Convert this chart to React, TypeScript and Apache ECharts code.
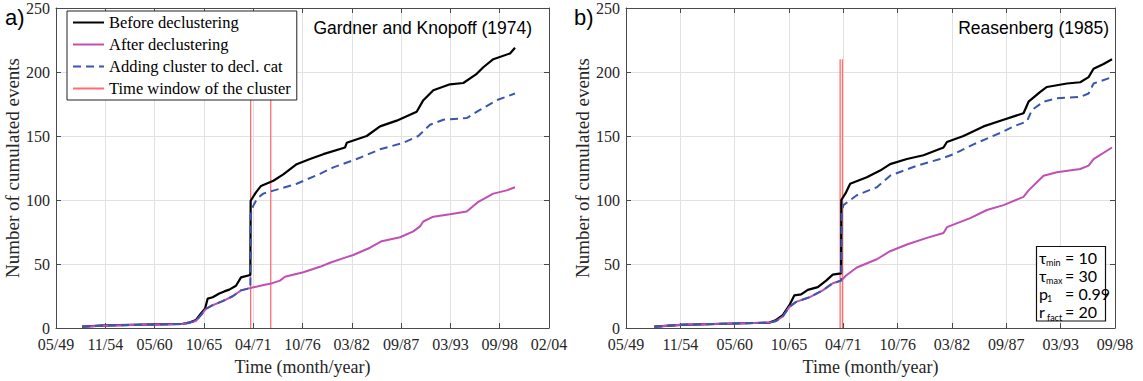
import React, { useEffect, useRef } from "react";
import * as echarts from "echarts";

type Pt = [number, number];

// Date axis: values are decimal years, plotted as years elapsed since 05/49.
const DATE_ORIGIN = 1949.33;
const TICK_STEP = 2000 / 365.25; // 2000 days between date ticks

const xTickLabels = ["05/49", "11/54", "05/60", "10/65", "04/71", "10/76", "03/82", "09/87", "03/93", "09/98", "02/04"];
const leftTickCount = 10;
const rightTickCount = 9;
const yMin = 0;
const yMax = 250;
const yStep = 50;

const seriesNames = [
  "Before declustering",
  "After declustering",
  "Adding cluster to decl. cat",
  "Time window of the cluster",
];

// ---- Gardner and Knopoff (1974) ----
const gkBefore: Pt[] = [
  [1952.22, 1], [1954.88, 2], [1963.4, 3.2], [1964.14, 4.2], [1964.88, 6.3], [1965.43, 11.4],
  [1965.88, 15], [1966.18, 23], [1966.73, 24], [1967.47, 27], [1968.02, 28.6], [1968.58, 30],
  [1969.32, 33], [1969.88, 39.6], [1970.91, 41.4], [1970.95, 99.4], [1971.54, 106], [1972.1, 111],
  [1973.47, 115], [1974.58, 120], [1976.06, 128], [1977.54, 132], [1979.02, 135.8], [1981.43, 141],
  [1981.62, 144.7], [1983.84, 150], [1985.32, 157.5], [1987.17, 162], [1989.39, 169], [1990.13, 178],
  [1991.24, 185.8], [1993.09, 190.4], [1994.57, 191.4], [1996.06, 198.6], [1996.79, 203.7],
  [1997.9, 210], [1999.76, 214.5], [2000.31, 219],
];
const gkShared: Pt[] = [
  [1952.22, 1], [1954.88, 2], [1963.4, 3.2], [1964.88, 5.5], [1965.43, 10], [1965.99, 15],
  [1966.73, 17.8], [1967.84, 21], [1968.95, 24.8], [1969.88, 29.4], [1970.91, 31.2],
];
const gkAfterTail: Pt[] = [
  [1972.65, 34], [1973.1, 34.5], [1974.21, 37], [1974.76, 40], [1976.8, 43.5], [1978.65, 47.8],
  [1979.76, 51], [1981.43, 55], [1982.35, 57], [1984.21, 62.7], [1985.51, 67.8], [1987.54, 70.9],
  [1989.02, 75.5], [1989.76, 79.4], [1990.13, 83.2], [1991.24, 87], [1993.09, 88.8], [1994.95, 91],
  [1996.24, 98.6], [1997.9, 105], [1999.39, 107.5], [2000.31, 110],
];
const gkAddedTail: Pt[] = [
  [1970.95, 88], [1971.21, 95], [1971.65, 101], [1972.35, 105], [1976.06, 112.7], [1978.65, 120.4],
  [1980.13, 125.5], [1982.73, 132], [1985.32, 139.6], [1987.9, 144.7], [1989.57, 150], [1990.87, 158.8],
  [1992.35, 162.7], [1994.95, 164], [1996.42, 170.4], [1998.28, 178], [2000.31, 183.2],
];
const gkWindow = [1970.95, 1973.18];

// ---- Reasenberg (1985) ----
const rbBefore: Pt[] = [
  [1952.18, 1], [1954.88, 2.5], [1963.78, 4.2], [1964.46, 6.3], [1965.13, 10], [1965.8, 17.8],
  [1966.3, 25.5], [1966.98, 26.3], [1967.65, 29.8], [1968.66, 31.9], [1969.5, 37], [1970.17, 41.7],
  [1971.01, 42.7], [1971.03, 100], [1971.51, 106], [1971.92, 112.7], [1973.6, 117.8], [1974.94, 123],
  [1975.95, 128], [1977.64, 132], [1979.31, 135], [1981.33, 141], [1981.67, 145.3], [1983.34, 150],
  [1985.36, 157.5], [1987.38, 162.7], [1989.39, 167.8], [1989.9, 176.8], [1991.08, 184.5],
  [1991.75, 188.3], [1993.77, 191], [1995.11, 192], [1995.95, 196], [1996.45, 202.5],
  [1997.46, 206.3], [1998.31, 210],
];
const rbShared: Pt[] = [
  [1952.18, 1], [1954.88, 2.5], [1963.78, 4.2], [1964.46, 5.5], [1965.13, 9], [1965.8, 16.5],
  [1966.47, 20.4], [1967.81, 24], [1969.16, 29.4], [1970.17, 35], [1971.01, 37],
];
const rbAfterTail: Pt[] = [
  [1971.51, 41], [1972.59, 47.3], [1974.61, 53.7], [1975.95, 60], [1977.64, 65.2], [1979.65, 70.4],
  [1981.33, 74.2], [1981.67, 78.8], [1984.02, 85.8], [1985.7, 92.2], [1987.38, 96], [1989.39, 102.4],
  [1989.9, 107.5], [1991.41, 119], [1992.76, 121.7], [1995.11, 124.2], [1995.95, 126.8],
  [1996.45, 132], [1998.31, 141],
];
const rbAddedTail: Pt[] = [
  [1971.05, 90], [1971.24, 96], [1972.59, 103.7], [1974.61, 110], [1975.95, 119], [1978.64, 126.8],
  [1980.99, 132], [1982.34, 135.8], [1984.35, 143.5], [1987.04, 152.4], [1988.38, 157.5],
  [1989.74, 161.4], [1990.24, 170.4], [1991.41, 176.8], [1992.76, 179.4], [1995.11, 180.6],
  [1995.95, 183.2], [1996.45, 191], [1998.31, 196],
];
const rbWindow = [1970.91, 1971.14];

// Reasenberg parameters: symbol, subscript, value
const rbParams: [string, string, string][] = [
  ["τ", "min", "= 10"],
  ["τ", "max", "= 30"],
  ["p", "1", "= 0.99"],
  ["r", "fact", "= 20"],
];

const SERIF = "Liberation Serif";
const SANS = "Liberation Sans";
const AXIS_COLOR = "#4a4a4a";
const GRID_COLOR = "#e2e2e2";
const TEXT_COLOR = "#262626";

const COLOR_BEFORE = "#000000";
const COLOR_AFTER = "#c04fb4";
const COLOR_ADDED = "#3b55b0";
const COLOR_WINDOW = "#ff6f6f";

// Serif tick labels go through a rich-text style
const tickRich = { t: { fontFamily: SERIF, fontSize: 16, color: TEXT_COLOR } };

const toAxis = (pts: Pt[]) => pts.map(([t, v]) => [t - DATE_ORIGIN, v]);

function curve(name: string, pts: Pt[], axis: number, color: string, width: number, dashed = false, z = 2) {
  return {
    type: "line",
    name,
    xAxisIndex: axis,
    yAxisIndex: axis,
    data: toAxis(pts),
    showSymbol: false,
    symbol: "none",
    silent: true,
    z,
    itemStyle: { color },
    lineStyle: { color, width, type: dashed ? [8, 5] : "solid" },
  };
}

function windowLines(times: number[], top: number, axis: number) {
  const data: any[] = [];
  times.forEach((t, i) => {
    if (i > 0) data.push([t - DATE_ORIGIN, "-"]);
    data.push([t - DATE_ORIGIN, 0], [t - DATE_ORIGIN, top]);
  });
  return {
    type: "line",
    name: seriesNames[3],
    xAxisIndex: axis,
    yAxisIndex: axis,
    data,
    connectNulls: false,
    showSymbol: false,
    symbol: "none",
    silent: true,
    z: 1,
    itemStyle: { color: COLOR_WINDOW },
    lineStyle: { color: COLOR_WINDOW, width: 1.3 },
  };
}

function dateAxis(gridIndex: number, ticks: number, bottom: boolean) {
  return {
    type: "value",
    gridIndex,
    position: bottom ? "bottom" : "top",
    min: 0,
    max: ticks * TICK_STEP,
    interval: TICK_STEP,
    name: bottom ? "Time (month/year)" : "",
    nameLocation: "middle",
    nameGap: 30,
    nameTextStyle: { fontFamily: SERIF, fontSize: 18, color: TEXT_COLOR },
    axisLine: { show: true, onZero: false, lineStyle: { color: AXIS_COLOR, width: 1 } },
    axisTick: { show: true, inside: true, length: 5, lineStyle: { color: AXIS_COLOR } },
    axisLabel: {
      show: bottom,
      fontFamily: SERIF,
      fontSize: 16,
      color: TEXT_COLOR,
      margin: 8,
      showMinLabel: true,
      showMaxLabel: true,
      hideOverlap: false,
      rich: tickRich,
      formatter: (v: number) => `{t|${xTickLabels[Math.round(v / TICK_STEP)] ?? ""}}`,
    },
    splitLine: { show: bottom, lineStyle: { color: GRID_COLOR, width: 1 } },
  };
}

function countAxis(gridIndex: number, left: boolean) {
  return {
    type: "value",
    gridIndex,
    position: left ? "left" : "right",
    min: yMin,
    max: yMax,
    interval: yStep,
    name: left ? "Number of cumulated events" : "",
    nameLocation: "middle",
    nameGap: 31,
    nameTextStyle: { fontFamily: SERIF, fontSize: 19, color: TEXT_COLOR },
    axisLine: { show: true, onZero: false, lineStyle: { color: AXIS_COLOR, width: 1 } },
    axisTick: { show: true, inside: true, length: 5, lineStyle: { color: AXIS_COLOR } },
    axisLabel: {
      show: left,
      fontFamily: SERIF,
      fontSize: 16,
      color: TEXT_COLOR,
      margin: 6,
      rich: tickRich,
      formatter: (v: number) => `{t|${v}}`,
    },
    splitLine: { show: left, lineStyle: { color: GRID_COLOR, width: 1 } },
  };
}

function paramGraphics(): any[] {
  const items: any[] = [
    {
      type: "rect",
      shape: { x: 1036.5, y: 246.5, width: 69, height: 74.5 },
      style: { fill: "#ffffff", stroke: "#111", lineWidth: 1.2 },
      z: 100,
    },
  ];
  rbParams.forEach(([sym, sub, val], i) => {
    const cy = 257 + i * 18.2;
    items.push(
      {
        type: "text", x: 1039, y: cy, z: 101,
        style: { text: sym, font: "16px Lato", fill: "#000", textVerticalAlign: "middle" },
      },
      {
        type: "text", x: sym === "τ" ? 1046 : 1047, y: cy + 5.5, z: 101,
        style: { text: sub, font: "9px Lato", fill: "#000", textVerticalAlign: "middle" },
      },
      {
        type: "text", x: 1065, y: cy, z: 101,
        style: { text: val, font: "16px Lato", fill: "#000", textVerticalAlign: "middle" },
      },
    );
  });
  return items;
}

export default function App() {
  const ref = useRef<HTMLDivElement>(null);

  useEffect(() => {
    document.body.style.margin = "0";
    if (!ref.current) return;
    const chart = echarts.init(ref.current, undefined, { renderer: "svg" });

    const gkAfter = [...gkShared, ...gkAfterTail];
    const gkAdded = [...gkShared, ...gkAddedTail];
    const rbAfter = [...rbShared, ...rbAfterTail];
    const rbAdded = [...rbShared, ...rbAddedTail];
    const gkTop = Math.max(...gkBefore.map((p) => p[1]));
    const rbTop = Math.max(...rbBefore.map((p) => p[1]));

    chart.setOption({
      animation: false,
      backgroundColor: "#ffffff",
      textStyle: { fontFamily: SERIF },
      grid: [
        { left: 56, top: 7, width: 493, height: 324.5 },
        { left: 626, top: 7, width: 489, height: 324.5 },
      ],
      xAxis: [
        dateAxis(0, leftTickCount, true),
        dateAxis(0, leftTickCount, false),
        dateAxis(1, rightTickCount, true),
        dateAxis(1, rightTickCount, false),
      ],
      yAxis: [countAxis(0, true), countAxis(0, false), countAxis(1, true), countAxis(1, false)],
      legend: {
        data: seriesNames,
        orient: "vertical",
        left: 67,
        top: 11,
        backgroundColor: "#ffffff",
        borderColor: "#222",
        borderWidth: 1,
        borderRadius: 0,
        padding: [3, 6, 3, 5],
        itemGap: 5,
        itemWidth: 31,
        itemHeight: 14,
        selectedMode: false,
        itemStyle: { color: "transparent", opacity: 0, borderWidth: 0 },
        textStyle: { fontFamily: SERIF, fontSize: 16.5, color: "#000", lineHeight: 16 },
      },
      series: [
        windowLines(gkWindow, gkTop, 0),
        curve(seriesNames[0], gkBefore, 0, COLOR_BEFORE, 2.2, false, 2),
        curve(seriesNames[1], gkAfter, 0, COLOR_AFTER, 2, false, 3),
        curve(seriesNames[2], gkAdded, 0, COLOR_ADDED, 2, true, 4),
        windowLines(rbWindow, rbTop, 2),
        curve(seriesNames[0], rbBefore, 2, COLOR_BEFORE, 2.2, false, 2),
        curve(seriesNames[1], rbAfter, 2, COLOR_AFTER, 2, false, 3),
        curve(seriesNames[2], rbAdded, 2, COLOR_ADDED, 2, true, 4),
      ],
      graphic: [
        { type: "text", x: 5, y: 6, style: { text: "a)", font: `22px ${SANS}`, fill: "#000" } },
        { type: "text", x: 574, y: 6, style: { text: "b)", font: `22px ${SANS}`, fill: "#000" } },
        {
          type: "text", x: 532, y: 28, z: 50,
          style: { text: "Gardner and Knopoff (1974)", font: `17.5px ${SANS}`, fill: "#000", textAlign: "right", textVerticalAlign: "middle" },
        },
        {
          type: "text", x: 1109, y: 28, z: 50,
          style: { text: "Reasenberg (1985)", font: `17.5px ${SANS}`, fill: "#000", textAlign: "right", textVerticalAlign: "middle" },
        },
        ...paramGraphics(),
      ],
    });

    return () => chart.dispose();
  }, []);

  return <div ref={ref} style={{ width: 1143, height: 381 }} />;
}
